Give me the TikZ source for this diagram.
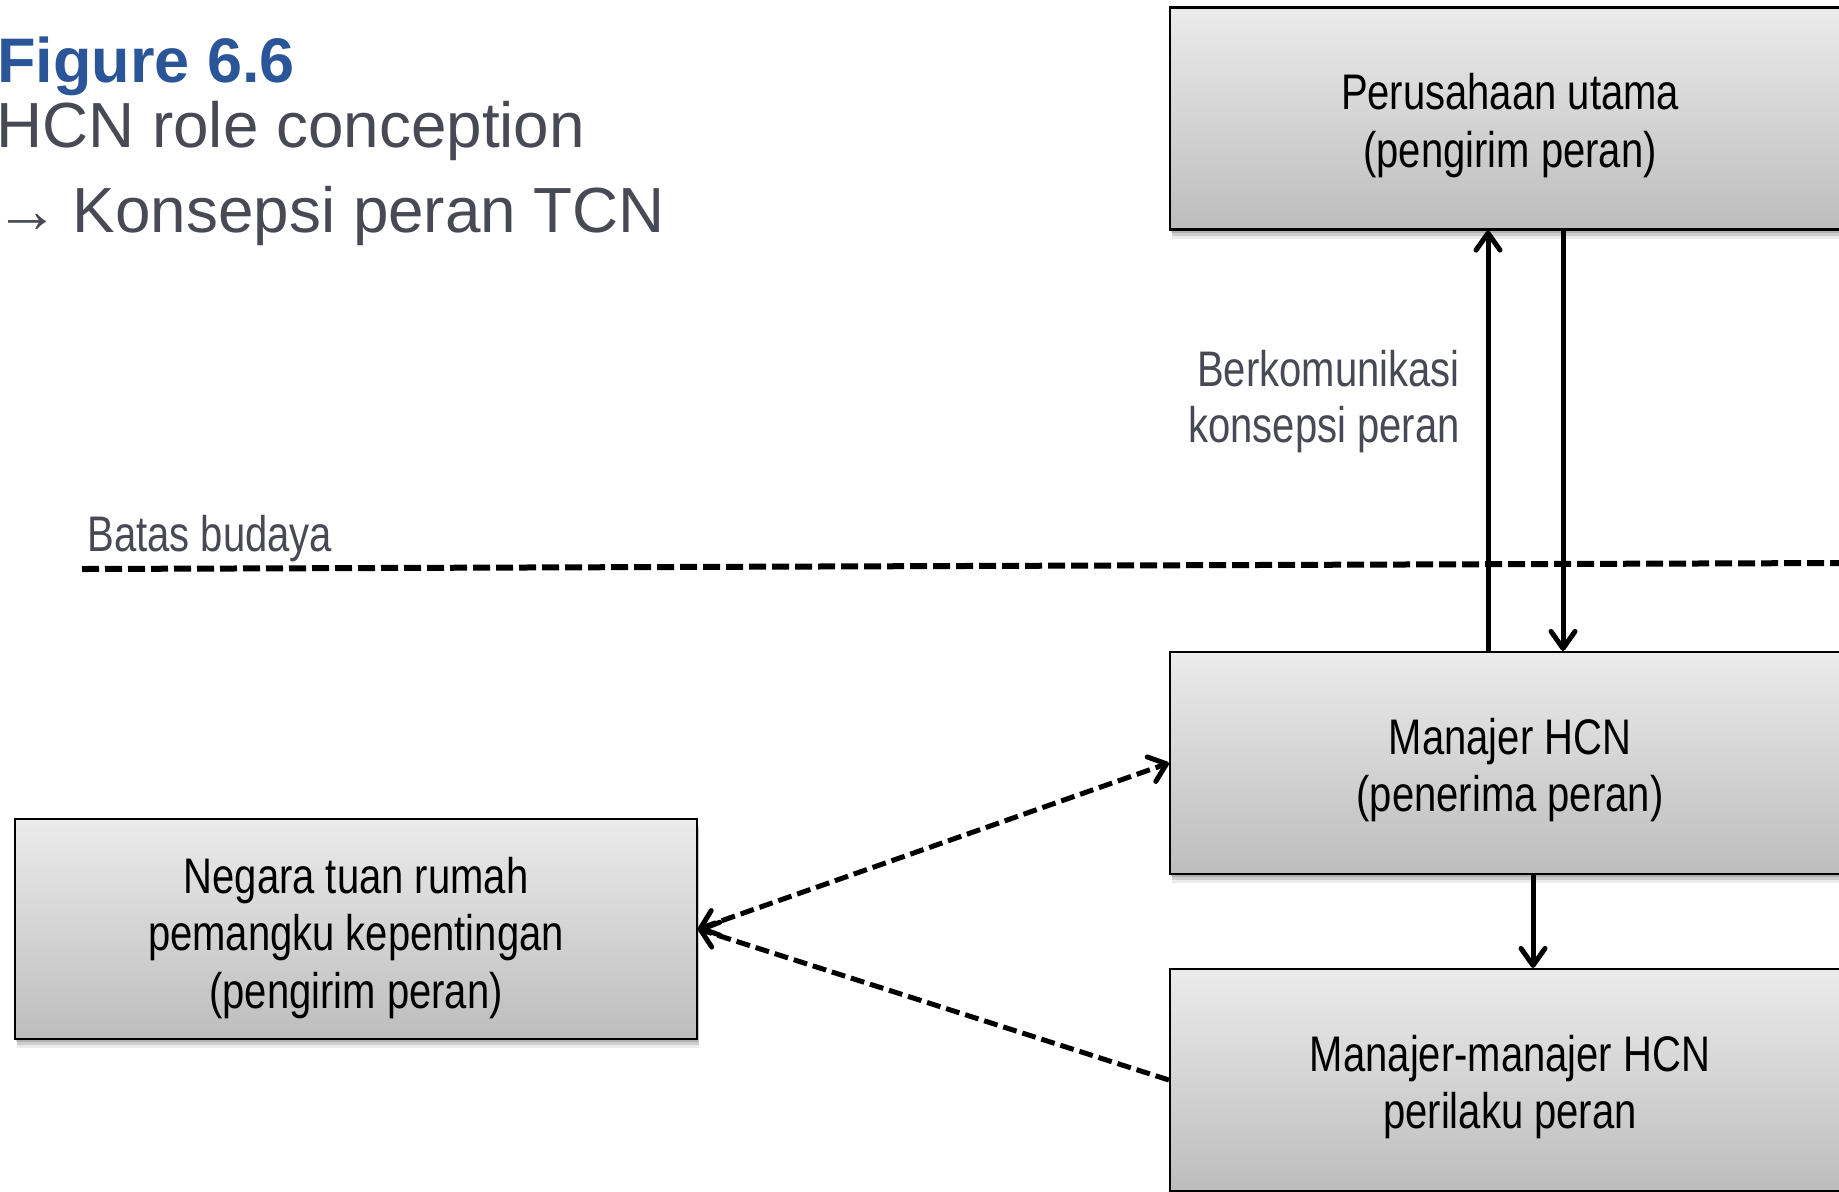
\documentclass[tikz,border=0pt]{standalone}
\usepackage{fontspec}
\setmainfont{Liberation Sans}
\newfontfamily\narrowfont[FakeStretch=0.8]{Liberation Sans}
\usetikzlibrary{arrows.meta,shadows}
\definecolor{titleblue}{HTML}{2A5699}
\definecolor{txtgray}{HTML}{474A54}
\definecolor{boxtop}{HTML}{EBEBEB}
\definecolor{boxbot}{HTML}{BDBDBD}
\begin{document}
\begin{tikzpicture}[x=0.5pt,y=-0.5pt,
  boxnode/.style={draw=black, line width=1.1pt, top color=boxtop, bottom color=boxbot,
    minimum width=340pt, minimum height=111pt, inner sep=0pt,
    general shadow={shadow xshift=0.6pt, shadow yshift=-1.5pt, fill=black, opacity=0.14},
    general shadow={shadow xshift=0.9pt, shadow yshift=-3pt, fill=black, opacity=0.12},
    general shadow={shadow xshift=1.2pt, shadow yshift=-4.5pt, fill=black, opacity=0.08}},
  boxtext/.style={inner sep=0pt, align=center, font=\narrowfont\fontsize{25}{28.75}\selectfont},
  conn/.style={line width=2.5pt, -{Straight Barb[round,length=8.5pt,width=12pt]}},
  dasharr/.style={line width=2.5pt, dash pattern=on 7pt off 3pt},
  boundary/.style={line width=3pt, dash pattern=on 8.5pt off 3pt},
  headtext/.style={anchor=base west, inner sep=0pt, font=\fontsize{31.9}{38}\selectfont, text=txtgray},
  labeltext/.style={inner sep=0pt, font=\narrowfont\fontsize{25}{28}\selectfont, text=txtgray}
]
\path[use as bounding box] (0,0) rectangle (1839,1191);
\clip (0,0) rectangle (1839,1191);

% title
\node[anchor=base west, inner sep=0pt, font=\bfseries\fontsize{31.5}{36}\selectfont, text=titleblue] (title) at (-3,82) {Figure 6.6};
\node[headtext] (sub1) at (-4,147) {HCN role conception};
\node[headtext] (sub2) at (-5,232) {→\kern-2pt\ Konsepsi peran TCN};

% cultural boundary
\coordinate (b1) at (82,569);
\coordinate (b2) at (1839,563);
\draw[boundary] (b1) -- (b2);
\node[labeltext, anchor=base west] (batas) at (87,551) {Batas budaya};

% boxes
\node[boxnode] (top) at (1510,118.5) {};
\node[boxnode] (mid) at (1510,763) {};
\node[boxnode] (bot) at (1510,1080) {};
\node[boxnode, minimum width=341pt, minimum height=110pt] (host) at (356,929) {};

\node[boxtext] (toptext) at ([yshift=-3.5pt]top.center) {Perusahaan utama\\(pengirim peran)};
\node[boxtext] (midtext) at ([yshift=-3.5pt]mid.center) {Manajer HCN\\(penerima peran)};
\node[boxtext] (bottext) at ([yshift=-3.5pt]bot.center) {Manajer-manajer HCN\\perilaku peran};
\node[boxtext] (hosttext) at ([yshift=-4.5pt]host.center) {Negara tuan rumah\\pemangku kepentingan\\(pengirim peran)};

% vertical connectors
\coordinate (ua) at (1488,0);
\coordinate (da) at (1563,0);
\coordinate (dm) at (1533,0);
\draw[conn] (mid.north -| ua) -- (top.south -| ua);
\draw[conn] (top.south -| da) -- (mid.north -| da);
\draw[conn] (mid.south -| dm) -- (bot.north -| dm);

\node[labeltext, anchor=east, align=right] (comm) at (1460,402) {Berkomunikasi\\konsepsi peran};

% dashed connectors
\draw[dasharr, {Straight Barb[round,length=8pt,width=13pt]}-{Straight Barb[round,length=8pt,width=13pt]}] (host.east) -- (mid.west);
\draw[dasharr, -{Straight Barb[round,length=8pt,width=13pt]}] (bot.west) -- (host.east);
\end{tikzpicture}
\end{document}
